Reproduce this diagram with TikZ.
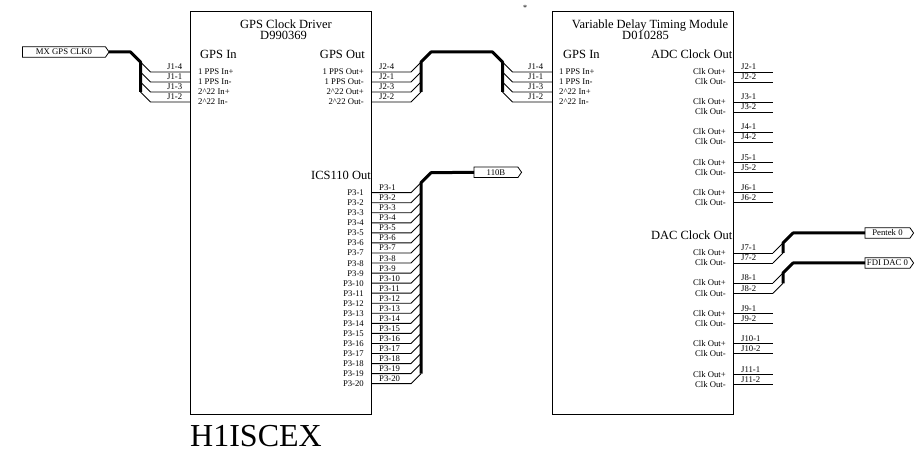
\documentclass[tikz,border=0pt]{standalone}
\usepackage{fontspec}
\setmainfont{Liberation Serif}
\usetikzlibrary{shapes.symbols}
\tikzset{
  x=1pt,y=-1pt,
  modbox/.style={draw,line width=0.9pt,inner sep=0pt,outer sep=0pt,anchor=north west},
  wire/.style={line width=0.9pt,line join=miter},
  bus/.style={line width=3pt,line join=round},
  small/.style={inner sep=0pt,font=\fontsize{8.7}{8.7}\selectfont},
  sl/.style={small,anchor=base west},
  sr/.style={small,anchor=base east},
  head/.style={inner sep=0pt,font=\fontsize{12.5}{12.5}\selectfont},
  tag/.style={draw,line width=0.8pt,signal,signal to=east,signal pointer angle=110,inner sep=0pt,outer sep=0pt,minimum height=10.5pt,font=\fontsize{8.7}{8.7}\selectfont},
}
% \RWire{name}{x edge}{y}{label}{x label}: wire going right then up to a bus
\newcommand{\RWire}[5]{%
  \coordinate (#1s) at (#2,#3);
  \coordinate (#1k) at (#2+40,#3);
  \coordinate (#1b) at (#2+50,#3-10);
  \draw[wire] (#1s) -- (#1k) -- (#1b);
  \node[sl] (#1t) at (#5,#3-2) {#4};}
% \LWire: wire going left then up to a bus
\newcommand{\LWire}[5]{%
  \coordinate (#1s) at (#2,#3);
  \coordinate (#1k) at (#2-40,#3);
  \coordinate (#1b) at (#2-50,#3-10);
  \draw[wire] (#1s) -- (#1k) -- (#1b);
  \node[sl] (#1t) at (#5,#3-2) {#4};}
% \SWire: straight stub on the right
\newcommand{\SWire}[4]{%
  \coordinate (#1s) at (733,#2);
  \coordinate (#1e) at (773,#2);
  \draw[wire] (#1s) -- (#1e);
  \node[sl] (#1t) at (741,#2-2) {#3};
  \node[sr] (#1p) at (726,#2+3) {#4};}
\begin{document}
\begin{tikzpicture}
\useasboundingbox (0,0) rectangle (921,454);
% modules
\node[modbox,minimum width=180.8pt,minimum height=402.5pt] (drv) at (190.5,11.8) {};
\node[modbox,minimum width=180.8pt,minimum height=402.5pt] (vdt) at (552.5,11.8) {};
\node[head,anchor=base] (drvT) at (286,28.8) {GPS Clock Driver};
\node[head,anchor=base] (drvD) at (283.5,39.3) {D990369};
\node[head,anchor=base] (vdtT) at (650,28.8) {Variable Delay Timing Module};
\node[head,anchor=base] (vdtD) at (645.5,39.3) {D010285};
\node[inner sep=0pt,font=\fontsize{8}{8}\selectfont] (star) at (525,8) {*};
\node[inner sep=0pt,anchor=base west,font=\fontsize{32}{32}\selectfont] (sys) at (190,446.7) {H1ISCEX};
% section headers
\node[head,anchor=base west] (h1) at (200,59) {GPS In};
\node[head,anchor=base east] (h2) at (365,59) {GPS Out};
\node[head,anchor=base east] (h3) at (371,180) {ICS110 Out};
\node[head,anchor=base west] (h4) at (563,59) {GPS In};
\node[head,anchor=base east] (h5) at (732.5,59) {ADC Clock Out};
\node[head,anchor=base east] (h6) at (732.5,240) {DAC Clock Out};
% tags
\node[tag,minimum width=86.5pt] (mx) at (64,52) {MX GPS CLK0};
\node[tag,minimum width=47.5pt] (b110) at (496,172.3) {110B};
\node[tag,minimum width=48.5pt] (pen) at (887.5,233) {Pentek 0};
\node[tag,minimum width=48.5pt] (fdi) at (887.5,263) {FDI DAC 0};
% driver GPS In
\LWire{a1}{190.5}{72}{J1-4}{167}
\LWire{a2}{190.5}{82}{J1-1}{167}
\LWire{a3}{190.5}{92}{J1-3}{167}
\LWire{a4}{190.5}{102}{J1-2}{167}
\node[sl] (pa1) at (198,75) {1 PPS In+};
\node[sl] (pa2) at (198,85) {1 PPS In-};
\node[sl] (pa3) at (198,95) {2\^{}22 In+};
\node[sl] (pa4) at (198,105) {2\^{}22 In-};
% driver GPS Out
\RWire{b1}{371}{72}{J2-4}{379}
\RWire{b2}{371}{82}{J2-1}{379}
\RWire{b3}{371}{92}{J2-3}{379}
\RWire{b4}{371}{102}{J2-2}{379}
\node[sr] (pb1) at (364,75) {1 PPS Out+};
\node[sr] (pb2) at (364,85) {1 PPS Out-};
\node[sr] (pb3) at (364,95) {2\^{}22 Out+};
\node[sr] (pb4) at (364,105) {2\^{}22 Out-};
% module GPS In
\LWire{c1}{552.5}{72}{J1-4}{528}
\LWire{c2}{552.5}{82}{J1-1}{528}
\LWire{c3}{552.5}{92}{J1-3}{528}
\LWire{c4}{552.5}{102}{J1-2}{528}
\node[sl] (pc1) at (559,75) {1 PPS In+};
\node[sl] (pc2) at (559,85) {1 PPS In-};
\node[sl] (pc3) at (559,95) {2\^{}22 In+};
\node[sl] (pc4) at (559,105) {2\^{}22 In-};
% ICS110 Out
\foreach \n in {1,...,20}{
  \pgfmathsetmacro{\yy}{192.7+(\n-1)*10.05}
  \RWire{d\n}{371}{\yy}{P3-\n}{379}
  \node[sr] (pd\n) at (364,\yy+3) {P3-\n};
}
% ADC and DAC stubs
\SWire{e1}{72}{J2-1}{Clk Out+}
\SWire{e2}{82}{J2-2}{Clk Out-}
\SWire{e3}{102}{J3-1}{Clk Out+}
\SWire{e4}{112}{J3-2}{Clk Out-}
\SWire{e5}{132}{J4-1}{Clk Out+}
\SWire{e6}{142}{J4-2}{Clk Out-}
\SWire{e7}{162.5}{J5-1}{Clk Out+}
\SWire{e8}{172.5}{J5-2}{Clk Out-}
\SWire{e9}{192.5}{J6-1}{Clk Out+}
\SWire{e10}{202.5}{J6-2}{Clk Out-}
\SWire{f1}{253}{J7-1}{Clk Out+}
\SWire{f2}{263}{J7-2}{Clk Out-}
\SWire{f3}{283}{J8-1}{Clk Out+}
\SWire{f4}{293.3}{J8-2}{Clk Out-}
\SWire{e11}{313.3}{J9-1}{Clk Out+}
\SWire{e12}{323.5}{J9-2}{Clk Out-}
\SWire{e13}{343.5}{J10-1}{Clk Out+}
\SWire{e14}{353.5}{J10-2}{Clk Out-}
\SWire{e15}{374}{J11-1}{Clk Out+}
\SWire{e16}{384}{J11-2}{Clk Out-}
\foreach \n in {1,2,3,4}{
  \coordinate (fb\n) at ([shift={(10,-10)}]f\n e);
  \draw[wire] (f\n e) -- (fb\n);
}
% buses
\coordinate (busA) at ([shift={(-10,-10)}]a1b);
\draw[bus] (mx.east) -- (busA) -- (a1b) -- (a4b);
\coordinate (top1) at ([shift={(10,-10)}]b1b);
\coordinate (top2) at ([shift={(-10,-10)}]c1b);
\draw[bus] (b4b) -- (b1b) -- (top1) -- (top2) -- (c1b) -- (c4b);
\coordinate (top3) at ([shift={(10,-10)}]d1b);
\draw[bus] (d20b) -- (d1b) -- (top3) -- (b110.west);
\coordinate (top4) at ([shift={(10,-10)}]fb1);
\draw[bus] (fb2) -- (fb1) -- (top4) -- (pen.west);
\coordinate (top5) at ([shift={(10,-10)}]fb3);
\draw[bus] (fb4) -- (fb3) -- (top5) -- (fdi.west);
\end{tikzpicture}
\end{document}
